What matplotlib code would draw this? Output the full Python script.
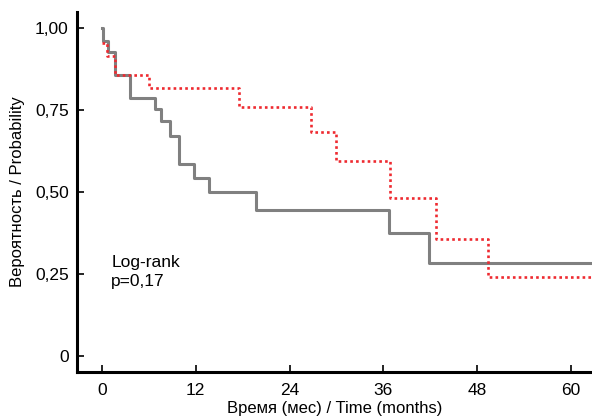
import matplotlib
matplotlib.use("Agg")
import matplotlib.pyplot as plt

plt.rcParams["font.family"] = ["Liberation Sans Narrow", "Liberation Sans", "DejaVu Sans"]

# Kaplan-Meier steps
gray_time = [0, 0.1, 0.8, 1.7, 3.6, 6.8, 7.6, 8.7, 9.85, 11.8, 13.7, 19.7, 36.7, 41.8, 63]
gray_surv = [1.0, 0.962, 0.926, 0.858, 0.788, 0.752, 0.716, 0.670, 0.584, 0.544, 0.500, 0.446, 0.376, 0.283, 0.283]

red_time = [0, 0.6, 1.7, 6.0, 17.5, 26.7, 29.9, 36.8, 42.8, 49.4, 63]
red_surv = [0.955, 0.915, 0.858, 0.816, 0.760, 0.684, 0.595, 0.480, 0.356, 0.240, 0.240]

x_ticks = [0, 12, 24, 36, 48, 60]
y_ticks = [0, 0.25, 0.5, 0.75, 1.0]
y_tick_labels = ["0", "0,25", "0,50", "0,75", "1,00"]

fig = plt.figure(figsize=(5.92, 4.2), dpi=100)
ax = fig.add_axes([0.130, 0.114, 0.870, 0.858])

ax.step(gray_time, gray_surv, where="post", color="#808080", linewidth=2.2, zorder=2)
ax.step(red_time, red_surv, where="post", color="#ee2a30", linewidth=1.9,
        dashes=(1, 1.2), zorder=3)

ax.set_xlim(-3.2, 62.7)
ax.set_ylim(-0.05, 1.05)

ax.set_xticks(x_ticks)
ax.set_yticks(y_ticks)
ax.set_yticklabels(y_tick_labels)
ax.tick_params(direction="in", length=5, width=1.2, labelsize=12.5, pad=6)
ax.tick_params(axis="x", pad=8)

for spine in ["top", "right"]:
    ax.spines[spine].set_visible(False)
for spine in ["left", "bottom"]:
    ax.spines[spine].set_linewidth(2.2)

ax.set_xlabel("Время (мес) / Time (months)", fontsize=12, labelpad=2)
ax.set_ylabel("Вероятность / Probability", fontsize=12, labelpad=7)

ax.text(1.2, 0.255, "Log-rank\np=0,17", fontsize=12.5, linespacing=1.3, va="center")

fig.savefig("out.png", dpi=100)
